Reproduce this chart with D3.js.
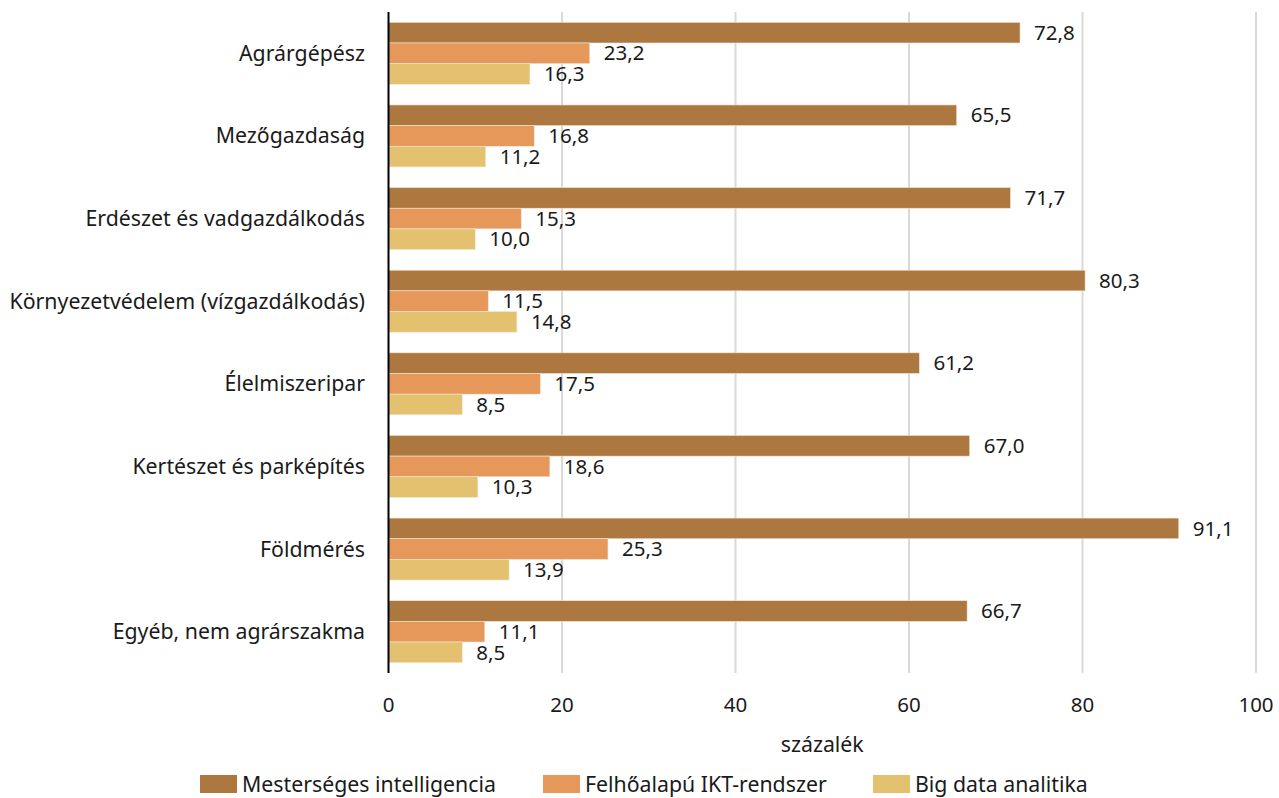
<!DOCTYPE html>
<html><head><meta charset="utf-8">
<script src="https://cdn.jsdelivr.net/npm/d3@7"></script>
<style>body{margin:0;background:#fff}svg{display:block}text{font-family:"Noto Sans",sans-serif;fill:#1a1a1a}</style>
</head><body><svg id="c" width="1279" height="798"></svg>
<script>
const categories = ["Agrárgépész","Mezőgazdaság","Erdészet és vadgazdálkodás","Környezetvédelem (vízgazdálkodás)","Élelmiszeripar","Kertészet és parképítés","Földmérés","Egyéb, nem agrárszakma"];
const seriesNames = ["Mesterséges intelligencia","Felhőalapú IKT-rendszer","Big data analitika"];
const mi = [72.8,65.5,71.7,80.3,61.2,67.0,91.1,66.7];
const cloud = [23.2,16.8,15.3,11.5,17.5,18.6,25.3,11.1];
const bigdata = [16.3,11.2,10.0,14.8,8.5,10.3,13.9,8.5];
const xTicks = [0,20,40,60,80,100];
const colors = ["#AD7740","#E5985A","#E3C16F"];
const series = [mi, cloud, bigdata];

const FS = 21.3;
const svg = d3.select("#c");
const pL = 388.5, pR = 1256, pT = 12, pB = 673;
const x = d3.scaleLinear().domain([0,100]).range([pL,pR]);
const y = d3.scaleBand().domain(categories).range([pT,pB]).paddingInner(0.25).paddingOuter(0.125);
const ys = d3.scaleBand().domain(d3.range(3)).range([0,y.bandwidth()]);

// gridlines
svg.append("g").selectAll("line").data(xTicks.filter(d=>d>0)).join("line")
  .attr("x1",d=>x(d)).attr("x2",d=>x(d)).attr("y1",pT).attr("y2",pB)
  .attr("stroke","#d9d9d9").attr("stroke-width",2);

// bars
categories.forEach((c,i)=>{
  series.forEach((s,j)=>{
    svg.append("rect").attr("x",x(0)).attr("y",y(c)+ys(j))
      .attr("width",x(s[i])-x(0)).attr("height",ys.bandwidth())
      .attr("fill",colors[j]).attr("stroke","#f3e6d6").attr("stroke-width",0.6);
    svg.append("text").attr("x",x(s[i])+14).attr("y",y(c)+ys(j)+ys.bandwidth()/2)
      .attr("dy","0.35em").attr("font-size",20.5).text(d3.format(".1f")(s[i]).replace(".",","));
  });
});

// y axis line
svg.append("line").attr("x1",x(0)).attr("x2",x(0)).attr("y1",pT).attr("y2",pB).attr("stroke","#000").attr("stroke-width",2);

// category labels
svg.append("g").selectAll("text").data(categories).join("text")
  .attr("x",365).attr("y",d=>y(d)+y.bandwidth()/2).attr("dy","0.35em")
  .attr("text-anchor","end").attr("font-size",FS).text(d=>d);

// x tick labels
svg.append("g").selectAll("text").data(xTicks).join("text")
  .attr("x",d=>x(d)).attr("y",705).attr("dy","0.35em").attr("text-anchor","middle")
  .attr("font-size",20.5).text(d=>d);
svg.append("text").attr("x",(pL+pR)/2).attr("y",745).attr("dy","0.35em").attr("text-anchor","middle").attr("font-size",FS).text("százalék");

// legend
const legX = [200,543,873];
seriesNames.forEach((n,j)=>{
  svg.append("rect").attr("x",legX[j]).attr("y",775).attr("width",37).attr("height",18).attr("fill",colors[j]);
  svg.append("text").attr("x",legX[j]+42).attr("y",785).attr("dy","0.35em").attr("font-size",FS).text(n);
});
</script></body></html>
